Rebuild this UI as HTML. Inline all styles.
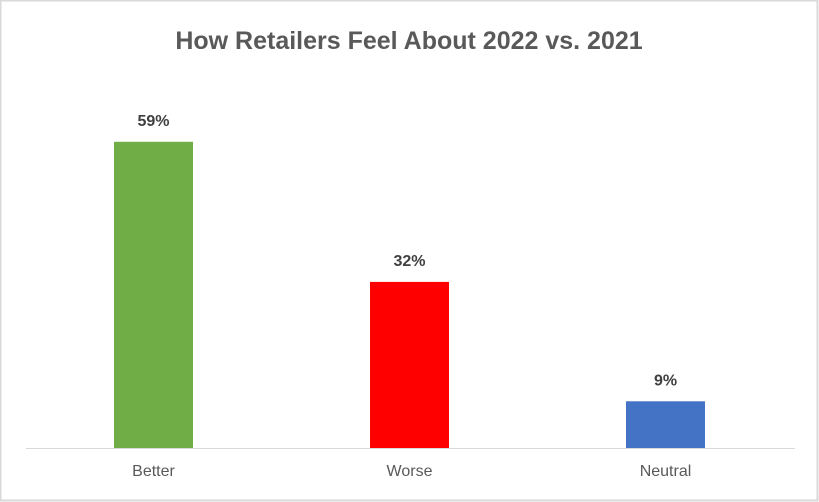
<!DOCTYPE html>
<html><head><meta charset="utf-8"><style>
html,body{margin:0;padding:0;background:#fff;}
svg{display:block;font-family:"Liberation Sans",sans-serif;}
</style></head><body>
<svg id="chart" width="819" height="502">
<rect x="0.5" y="0.5" width="817" height="500" fill="#fff" stroke="#d9d9d9" stroke-width="2"/>
<text x="409" y="49" text-anchor="middle" font-size="25" font-weight="bold" fill="#595959">How Retailers Feel About 2022 vs. 2021</text>
<line x1="26" y1="448.5" x2="795" y2="448.5" stroke="#d9d9d9" stroke-width="1"/>
<g id="bars"></g>
</svg>
<script>
const categories = ["Better", "Worse", "Neutral"];
const values = [59, 32, 9];
const valueLabels = ["59%", "32%", "9%"];
const colors = ["#70ad47", "#ff0000", "#4472c4"];
const baseY = 448, pxPer = 5.19, plotLeft = 26, band = 256, barW = 79;
function xCenter(i){ return plotLeft + band*(i+0.5) - 0.5; }
function yScale(v){ return baseY - v*pxPer; }
const g = document.getElementById('bars');
const NS = "http://www.w3.org/2000/svg";
categories.forEach((c,i)=>{
  const r = document.createElementNS(NS,'rect');
  r.setAttribute('x', xCenter(i)-barW/2);
  r.setAttribute('y', yScale(values[i]));
  r.setAttribute('width', barW);
  r.setAttribute('height', baseY - yScale(values[i]));
  r.setAttribute('fill', colors[i]);
  
  
  g.appendChild(r);
  const t = document.createElementNS(NS,'text');
  t.setAttribute('x', xCenter(i));
  t.setAttribute('y', yScale(values[i]) - 16);
  t.setAttribute('text-anchor','middle');
  t.setAttribute('font-size','16');
  t.setAttribute('font-weight','bold');
  t.setAttribute('fill','#404040');
  t.textContent = valueLabels[i];
  
  
  g.appendChild(t);
  const l = document.createElementNS(NS,'text');
  l.setAttribute('x', xCenter(i));
  l.setAttribute('y', 476);
  l.setAttribute('text-anchor','middle');
  l.setAttribute('font-size','16');
  l.setAttribute('fill','#595959');
  l.textContent = c;
  
  
  g.appendChild(l);
});
</script>
</body></html>
